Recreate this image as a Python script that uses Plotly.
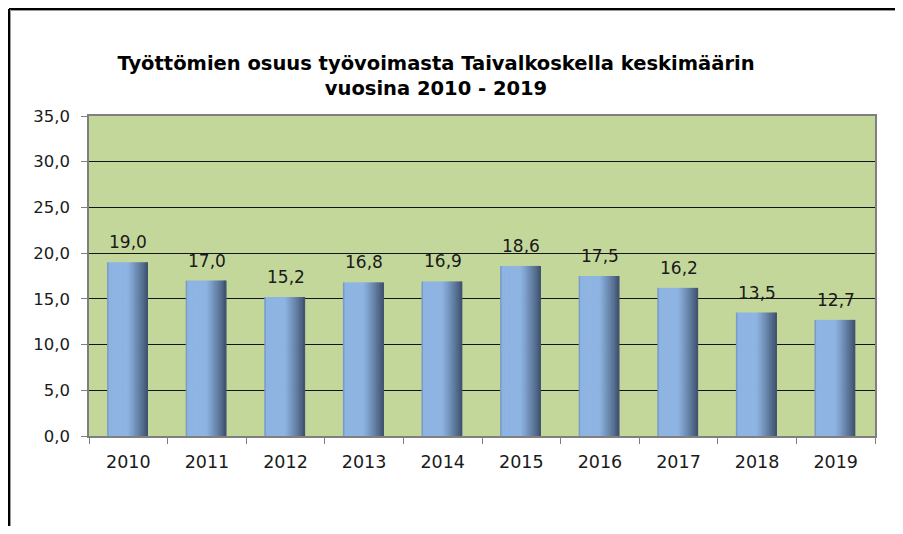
import plotly.graph_objects as go

years = ["2010", "2011", "2012", "2013", "2014", "2015", "2016", "2017", "2018", "2019"]
values = [19.0, 17.0, 15.2, 16.8, 16.9, 18.6, 17.5, 16.2, 13.5, 12.7]
title_text = "Työttömien osuus työvoimasta Taivalkoskella keskimäärin<br>vuosina 2010 - 2019"

FONT = "DejaVu Sans, Arial, sans-serif"

# figure geometry (pixels, inside the page's 8px body margin)
W, H = 895, 518
L, R, T, B = 81, 867, 108, 428

fig = go.Figure()

# cylinder-like horizontal gradient made of overlaid bar slices
bar_w = 0.52
n = 26
step = bar_w / n
light = (142, 180, 227)
dark = (62, 80, 108)


def col(t):
    if t < 0.04:
        c = (122, 155, 200)
    elif t < 0.5:
        c = light
    else:
        f = (t - 0.5) / 0.5
        f = f ** 1.1
        c = tuple(int(light[k] + (dark[k] - light[k]) * f) for k in range(3))
    return "rgb(%d,%d,%d)" % c


for i in range(n):
    t = (i + 0.5) / n
    fig.add_trace(go.Bar(
        x=years, y=values,
        width=step * 1.4 if i < n - 1 else step,
        offset=-bar_w / 2 - 0.01 + i * step,
        marker=dict(color=col(t), line=dict(width=0)),
        hoverinfo="skip", showlegend=False,
    ))

for idx, v in enumerate(values):
    fig.add_annotation(
        x=idx, y=v, text=("%.1f" % v).replace(".", ","),
        showarrow=False, yanchor="bottom", yshift=8,
        font=dict(family=FONT, size=17, color="#1a1a1a"),
    )

# outer chart border (top and left only are visible)
top_y = (B - 1) / (B - T)
left_x = (1 - L) / (R - L)
right_x = (W - L) / (R - L)
fig.add_shape(type="line", xref="paper", yref="paper",
              x0=left_x, x1=right_x, y0=top_y, y1=top_y,
              line=dict(color="black", width=2.5))
fig.add_shape(type="line", xref="paper", yref="paper",
              x0=left_x + 1.5 / (R - L), x1=right_x,
              y0=(B - 2.5) / (B - T), y1=(B - 2.5) / (B - T),
              line=dict(color="#9a9a9a", width=1))
fig.add_shape(type="line", xref="paper", yref="paper",
              x0=left_x, x1=left_x, y0=top_y, y1=(B - H) / (B - T),
              line=dict(color="black", width=2.5))
fig.add_shape(type="line", xref="paper", yref="paper",
              x0=(2.5 - L) / (R - L), x1=(2.5 - L) / (R - L),
              y0=(B - 1.5) / (B - T), y1=(B - H) / (B - T),
              line=dict(color="#9a9a9a", width=1))

fig.update_layout(
    width=W, height=H,
    margin=dict(l=L, r=W - R, t=T, b=H - B),
    paper_bgcolor="white",
    plot_bgcolor="#C4D79B",
    barmode="overlay",
    separators=", ",
    title=dict(text="<b>" + title_text + "</b>", x=428 / W, xanchor="center",
               y=1 - 62 / H, yanchor="middle",
               font=dict(family=FONT, size=19.5, color="black")),
    xaxis=dict(
        type="category", range=[-0.5, len(years) - 0.5],
        showline=True, linecolor="#7f7f7f", linewidth=1.5, mirror=True,
        ticks="outside", tickson="boundaries", ticklen=6, tickcolor="#7f7f7f",
        tickfont=dict(family=FONT, size=17.5, color="#1a1a1a"),
        tickangle=0, ticklabelstandoff=9,
        showgrid=False,
    ),
    yaxis=dict(
        range=[0, 35], dtick=5, tickformat=".1f",
        showline=True, linecolor="#7f7f7f", linewidth=1.5, mirror=True,
        ticks="outside", ticklen=6, tickcolor="#7f7f7f",
        showgrid=True, gridcolor="#141414", gridwidth=1,
        zeroline=False, ticklabelstandoff=8,
        tickfont=dict(family=FONT, size=16.5, color="#1a1a1a"),
    ),
)

fig.write_html("out.html", config={"displayModeBar": False})
